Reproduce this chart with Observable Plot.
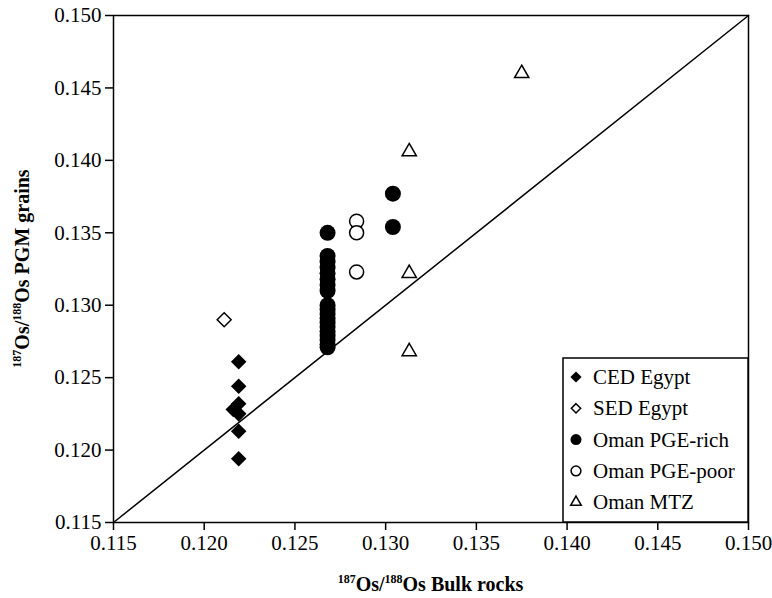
<!DOCTYPE html>
<html><head><meta charset="utf-8">
<script src="https://cdn.jsdelivr.net/npm/d3@7"></script>
<script src="https://cdn.jsdelivr.net/npm/@observablehq/plot@0.6"></script>
<style>
html,body{margin:0;padding:0;background:#fff;}
#chart svg{display:block;}
</style>
</head><body><div id="chart"></div>
<script>
// ---- data ----
const seriesNames = ["CED Egypt", "SED Egypt", "Oman PGE-rich", "Oman PGE-poor", "Oman MTZ"];
const cedX = [0.1219, 0.1219, 0.1219, 0.1216, 0.1219, 0.1219, 0.1219];
const cedY = [0.1261, 0.1244, 0.1232, 0.1228, 0.1225, 0.1213, 0.1194];
const sedX = [0.1211];
const sedY = [0.1290];
const richX = [0.1268, 0.1268, 0.1268, 0.1268, 0.1268, 0.1268, 0.1268, 0.1268, 0.1268, 0.1268,
               0.1268, 0.1268, 0.1268, 0.1268, 0.1268, 0.1268, 0.1268, 0.1268, 0.1268, 0.1304, 0.1304];
const richY = [0.1350, 0.1334, 0.1330, 0.1326, 0.1322, 0.1318, 0.1314, 0.1310, 0.1300, 0.1297,
               0.1294, 0.1291, 0.1288, 0.1285, 0.1282, 0.1279, 0.1276, 0.1273, 0.1271, 0.1377, 0.1354];
const poorX = [0.1284, 0.1284, 0.1284];
const poorY = [0.1358, 0.1350, 0.1323];
const mtzX = [0.1375, 0.1313, 0.1313, 0.1313];
const mtzY = [0.1460, 0.1406, 0.1322, 0.1268];
const axisDomain = [0.115, 0.150];
const tickValues = [0.115, 0.120, 0.125, 0.130, 0.135, 0.140, 0.145, 0.150];

(function () {
const toRows = (xv, yv) => xv.map((x, i) => ({x, y: yv[i]}));
const ced = toRows(cedX, cedY), sed = toRows(sedX, sedY), rich = toRows(richX, richY),
      poor = toRows(poorX, poorY), mtz = toRows(mtzX, mtzY);
const diag = toRows(axisDomain, axisDomain);

const FONT = "'Liberation Serif', 'Times New Roman', serif";
const fmt = d3.format(".3f");

const plot = Plot.plot({
  width: 772, height: 598,
  marginLeft: 113, marginRight: 24, marginTop: 15, marginBottom: 76,
  style: {fontFamily: FONT, fontSize: "21px", color: "#000", background: "#fff"},
  x: {domain: axisDomain, ticks: tickValues, tickFormat: fmt, label: null, tickSize: 8, tickPadding: 5},
  y: {domain: axisDomain, ticks: tickValues, tickFormat: fmt, label: null, tickSize: 8, tickPadding: 4},
  marks: [
    Plot.line(diag, {x: "x", y: "y", stroke: "#000", strokeWidth: 1.5}),
    Plot.dot(ced, {x: "x", y: "y", symbol: "diamond2", fill: "#000", stroke: "none", r: 7}),
    Plot.dot(sed, {x: "x", y: "y", symbol: "diamond2", fill: "#fff", stroke: "#000", strokeWidth: 1.5, r: 6.3}),
    Plot.dot(rich, {x: "x", y: "y", symbol: "circle", fill: "#000", stroke: "none", r: 8}),
    Plot.dot(poor, {x: "x", y: "y", symbol: "circle", fill: "#fff", stroke: "#000", strokeWidth: 1.5, r: 7}),
    Plot.dot(mtz, {x: "x", y: "y", symbol: "triangle2", fill: "#fff", stroke: "#000", strokeWidth: 1.5, r: 6.8}),
    Plot.frame({stroke: "#000", strokeWidth: 1.5})
  ]
});
document.getElementById("chart").appendChild(plot);

d3.select(plot).selectAll("[aria-label='x-axis tick'] path, [aria-label='y-axis tick'] path").attr("stroke-width", 1.5);

// ---- legend & axis titles ----
const sx = plot.scale("x"), sy = plot.scale("y");
const fLeft = sx.range[0], fRight = sx.range[1], fBottom = sy.range[0], fTop = sy.range[1];
const svg = d3.select(plot);

const lgW = 185, lgH = 164;
const lg = svg.append("g").attr("transform", `translate(${fRight - lgW},${fBottom - lgH})`).attr("text-anchor", "start");
lg.append("rect").attr("width", lgW).attr("height", lgH).attr("fill", "#fff").attr("stroke", "#000").attr("stroke-width", 1.5);
const legendSymbols = [
  {type: d3.symbolDiamond2, size: 80, fill: "#000", stroke: "none"},
  {type: d3.symbolDiamond2, size: 55, fill: "#fff", stroke: "#000"},
  {type: d3.symbolCircle, size: 95, fill: "#000", stroke: "none"},
  {type: d3.symbolCircle, size: 75, fill: "#fff", stroke: "#000"},
  {type: d3.symbolTriangle2, size: 80, fill: "#fff", stroke: "#000"}
];
seriesNames.forEach((name, i) => {
  const cy = 19 + i * 31.3;
  const s = legendSymbols[i];
  lg.append("path").attr("d", d3.symbol(s.type, s.size)()).attr("transform", `translate(13,${cy})`)
    .attr("fill", s.fill).attr("stroke", s.stroke).attr("stroke-width", 1.5);
  lg.append("text").attr("x", 30).attr("y", cy).attr("dy", "0.34em").attr("text-anchor", "start")
    .attr("font-family", FONT).attr("font-size", 21).attr("fill", "#000").text(name);
});

function addTitle(g, rest) {
  g.attr("font-family", FONT).attr("font-size", 20).attr("font-weight", "bold").attr("fill", "#000").attr("text-anchor", "middle");
  g.append("tspan").attr("font-size", 12).attr("dy", -8).text("187");
  g.append("tspan").attr("dy", 8).text("Os/");
  g.append("tspan").attr("font-size", 12).attr("dy", -8).text("188");
  g.append("tspan").attr("dy", 8).text("Os " + rest);
}
addTitle(svg.append("text").attr("x", (fLeft + fRight) / 2).attr("y", 591), "Bulk rocks");
addTitle(svg.append("text").attr("transform", `translate(29,${(fTop + fBottom) / 2}) rotate(-90)`), "PGM grains");
})();
</script>
</body></html>
